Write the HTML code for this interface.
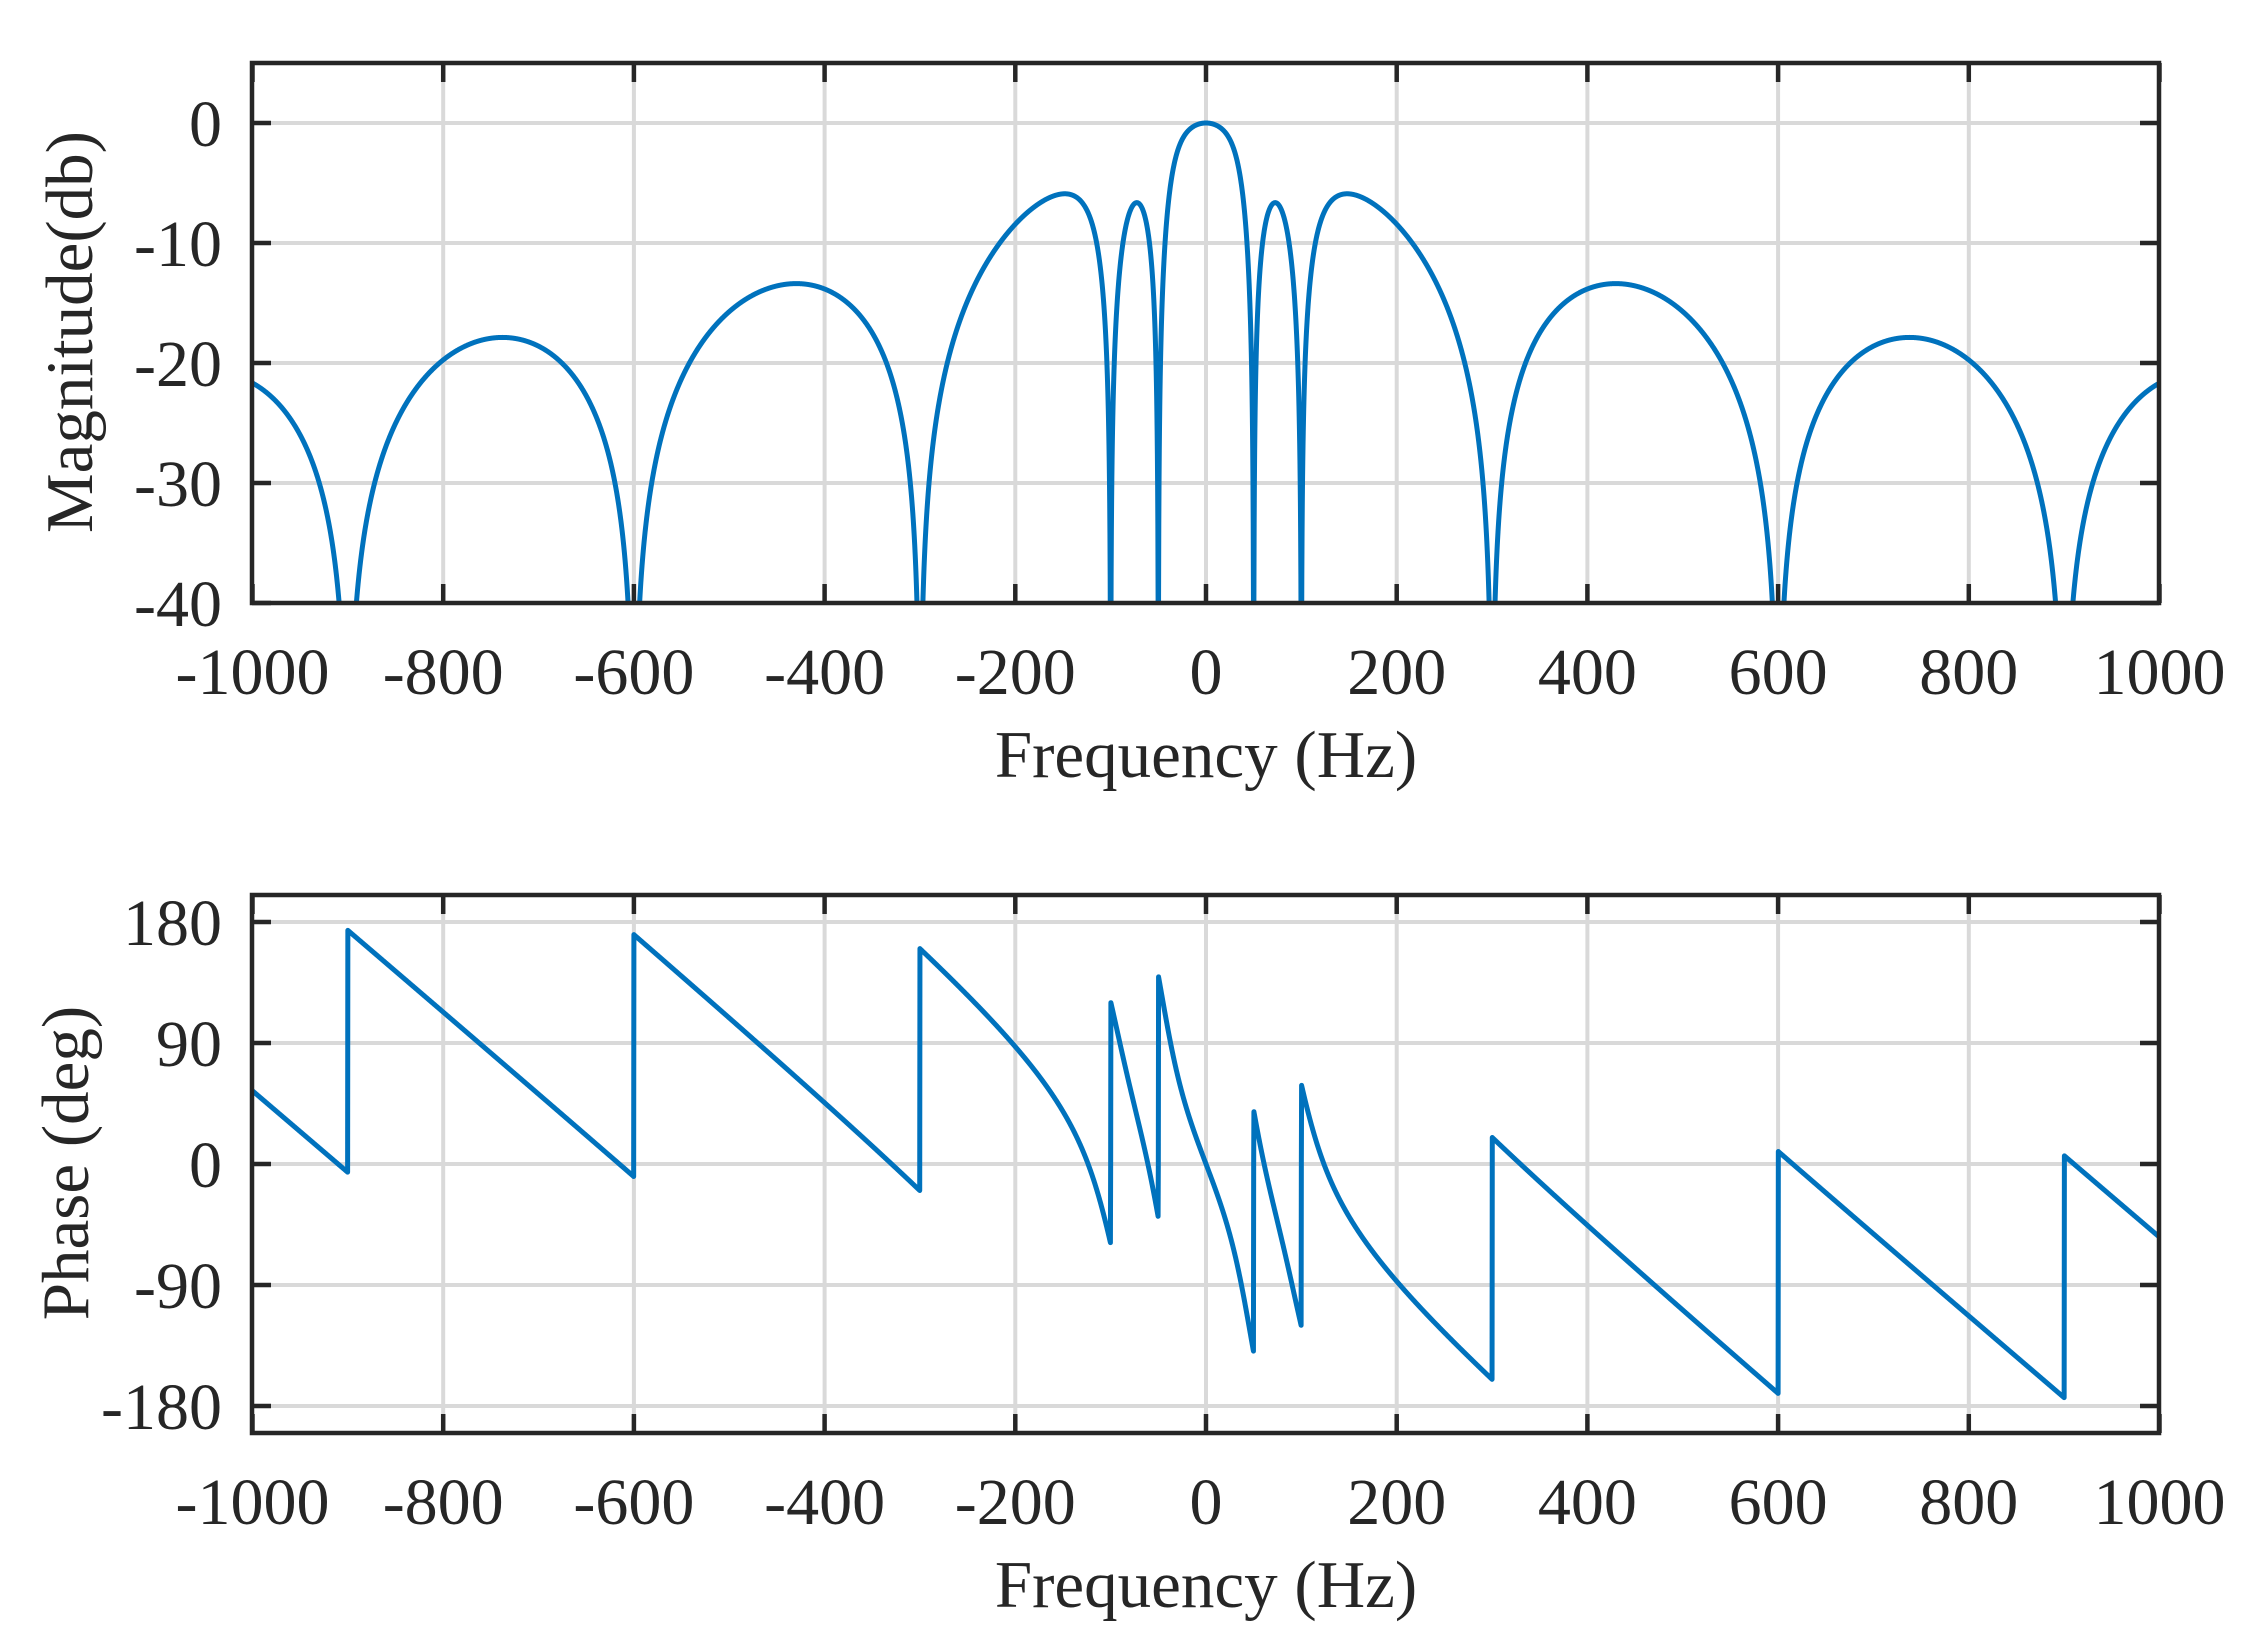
<!DOCTYPE html>
<html><head><meta charset="utf-8"><style>
html,body{margin:0;padding:0;background:#fff;}
svg{display:block;}
text{font-family:"Liberation Serif",serif;fill:#262626;}
</style></head><body>
<svg id="s" width="2244" height="1637" xmlns="http://www.w3.org/2000/svg">
<defs>
<clipPath id="c1"><rect x="252" y="63" width="1907" height="540"/></clipPath>
<clipPath id="c2"><rect x="252" y="895" width="1907" height="538"/></clipPath>
</defs>
<g id="g"></g>
</svg>
<script>
var X0=1206, XS=0.9535;
function px(f){return X0+f*XS;}
var T1={top:63,bot:603,y:function(d){return 123-d*12;}};
var T2={top:895,bot:1433,y:function(p){return 1164-p*(484/360);}};
var out='';
function axes(T,yt,ylab,clip,path,labx,laby){
 var s='';
 for(var f=-800;f<=800;f+=200){s+='<line x1="'+px(f)+'" y1="'+T.top+'" x2="'+px(f)+'" y2="'+T.bot+'" stroke="#d9d9d9" stroke-width="4"/>';}
 yt.forEach(function(v){var y=T.y(v);s+='<line x1="252" y1="'+y+'" x2="2159" y2="'+y+'" stroke="#d9d9d9" stroke-width="4"/>';});
 s+='<path d="'+path+'" fill="none" stroke="#0072BD" stroke-width="5" stroke-linejoin="round" clip-path="url(#'+clip+')"/>';
 for(var f=-1000;f<=1000;f+=200){var x=px(f);
  s+='<line x1="'+x+'" y1="'+T.top+'" x2="'+x+'" y2="'+(T.top+19)+'" stroke="#262626" stroke-width="4.5"/>';
  s+='<line x1="'+x+'" y1="'+T.bot+'" x2="'+x+'" y2="'+(T.bot-19)+'" stroke="#262626" stroke-width="4.5"/>';
  s+='<text x="'+x+'" y="'+(T.bot+91)+'" font-size="66" text-anchor="middle">'+f+'</text>';}
 yt.forEach(function(v){var y=T.y(v);
  s+='<line x1="252" y1="'+y+'" x2="271" y2="'+y+'" stroke="#262626" stroke-width="4.5"/>';
  s+='<line x1="2159" y1="'+y+'" x2="2140" y2="'+y+'" stroke="#262626" stroke-width="4.5"/>';
  s+='<text x="222" y="'+(y+23)+'" font-size="66" text-anchor="end">'+v+'</text>';});
 s+='<rect x="252" y="'+T.top+'" width="1907" height="'+(T.bot-T.top)+'" fill="none" stroke="#262626" stroke-width="4.5"/>';
 s+='<text x="1206" y="'+(T.bot+174)+'" font-size="67" text-anchor="middle">Frequency (Hz)</text>';
 s+='<text transform="translate('+labx+','+laby+') rotate(-90)" x="0" y="0" font-size="67" text-anchor="middle">'+ylab+'</text>';
 return s;
}
var p1='',p2='';
var A={50:42,100:55};
for(var i=0;i<=8000;i++){
 var f=-1000+i*0.25;
 var w=Math.PI*f/300;
 var sc=(Math.abs(f)<1e-9)?1:Math.sin(w)/w;
 var re=sc*Math.cos(-w), im=sc*Math.sin(-w);
 [50,100].forEach(function(z){
  var n=z*z-f*f, dr=n, di=A[z]*f;
  var den=dr*dr+di*di;
  var nr=n*dr/den, ni=-n*di/den;
  var r2=re*nr-im*ni, i2=re*ni+im*nr; re=r2; im=i2;});
 var mag=Math.sqrt(re*re+im*im);
 var db=20*Math.log10(Math.max(mag,1e-9)); if(db<-45)db=-45;
 var ph=Math.atan2(im,re)*180/Math.PI;
 var x=px(f).toFixed(2);
 p1+=(i?'L':'M')+x+' '+T1.y(db).toFixed(2);
 p2+=(i?'L':'M')+x+' '+T2.y(ph).toFixed(2);
}
out+=axes(T1,[0,-10,-20,-30,-40],'Magnitude(db)','c1',p1,92,332);
out+=axes(T2,[180,90,0,-90,-180],'Phase (deg)','c2',p2,88,1163);
document.getElementById('g').innerHTML=out;
</script>
</body></html>
